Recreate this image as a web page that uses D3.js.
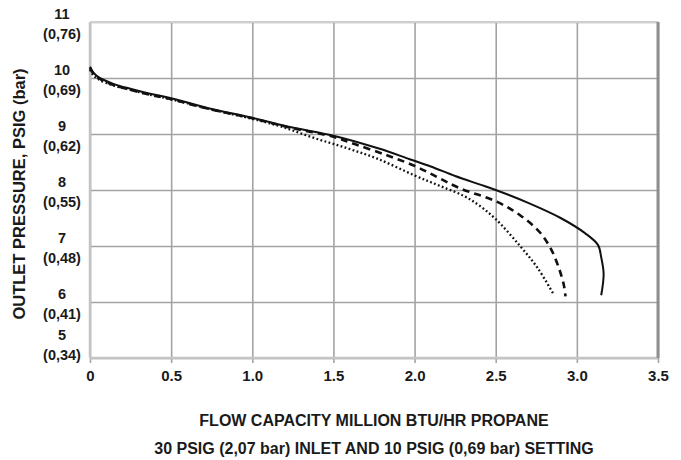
<!DOCTYPE html>
<html>
<head>
<meta charset="utf-8">
<script src="https://cdn.jsdelivr.net/npm/d3@7/dist/d3.min.js"></script>
<style>
  html, body { margin: 0; padding: 0; background: #fff; }
  svg text { font-family: "Liberation Sans", Arial, sans-serif; font-weight: bold; fill: #1a1a1a; }
</style>
</head>
<body>
<svg id="chart" width="681" height="460"></svg>
<script>
// flow capacity (million BTU/hr) and outlet pressure (psig)
var flowSolid = [0, 0.02, 0.05, 0.14, 0.26, 0.37, 0.5, 0.73, 1.0, 1.24, 1.5, 1.78, 1.97, 2.1, 2.25, 2.4, 2.5, 2.7, 2.9, 3.05, 3.13, 3.15, 3.165, 3.15];
var psigSolid = [10.2, 10.1, 10.02, 9.9, 9.8, 9.72, 9.64, 9.46, 9.29, 9.12, 8.97, 8.74, 8.55, 8.42, 8.25, 8.1, 8.0, 7.77, 7.5, 7.23, 7.02, 6.8, 6.5, 6.12];

var flowDashed = [0, 0.02, 0.05, 0.14, 0.26, 0.37, 0.5, 0.73, 1.0, 1.24, 1.5, 1.63, 1.83, 2.0, 2.14, 2.28, 2.5, 2.65, 2.77, 2.84, 2.89, 2.92, 2.93];
var psigDashed = [10.18, 10.08, 10.0, 9.88, 9.78, 9.7, 9.62, 9.45, 9.28, 9.11, 8.95, 8.82, 8.62, 8.43, 8.23, 8.03, 7.8, 7.55, 7.25, 6.95, 6.6, 6.3, 6.1];

var flowDotted = [0, 0.02, 0.05, 0.14, 0.26, 0.37, 0.5, 0.73, 1.0, 1.18, 1.38, 1.58, 1.77, 2.0, 2.15, 2.3, 2.4, 2.5, 2.65, 2.76, 2.86];
var psigDotted = [10.15, 10.05, 9.98, 9.87, 9.78, 9.7, 9.62, 9.45, 9.27, 9.13, 8.93, 8.75, 8.56, 8.26, 8.08, 7.9, 7.72, 7.48, 7.0, 6.6, 6.12];

var xTicks = [0, 0.5, 1.0, 1.5, 2.0, 2.5, 3.0, 3.5];
var xTickLabels = ['0', '0.5', '1.0', '1.5', '2.0', '2.5', '3.0', '3.5'];
var yTicks = [5, 6, 7, 8, 9, 10, 11];
var yBarLabels = ['(0,34)', '(0,41)', '(0,48)', '(0,55)', '(0,62)', '(0,69)', '(0,76)'];

var xTitle = ['FLOW CAPACITY MILLION BTU/HR PROPANE', '30 PSIG (2,07 bar) INLET AND 10 PSIG (0,69 bar) SETTING'];
var yTitle = 'OUTLET PRESSURE, PSIG (bar)';

var plotL = 90, plotR = 658, plotT = 22, plotB = 358;
var svg = d3.select('#chart');

var x = d3.scaleLinear().domain([0, 3.5]).range([plotL, plotR]);
var y = d3.scaleLinear().domain([5, 11]).range([plotB, plotT]);

// vertical grid + small ticks below the frame
var gx = svg.append('g')
  .attr('transform', 'translate(0,' + plotB + ')')
  .call(d3.axisBottom(x).tickValues(xTicks).tickSizeOuter(0)
    .tickFormat(function (d, i) { return xTickLabels[i]; }));
gx.select('.domain').remove();
gx.selectAll('.tick line').attr('stroke', '#a3a3a3').attr('stroke-width', 1.6)
  .attr('y1', 5).attr('y2', -(plotB - plotT));
gx.selectAll('.tick text').attr('y', 23).attr('dy', 0).attr('font-size', 15);

// horizontal grid
var gy = svg.append('g')
  .attr('transform', 'translate(' + plotL + ',0)')
  .call(d3.axisLeft(y).tickValues(yTicks).tickSizeOuter(0).tickFormat(''));
gy.select('.domain').remove();
gy.selectAll('.tick line').attr('stroke', '#a3a3a3').attr('stroke-width', 1.6)
  .attr('x1', 0).attr('x2', plotR - plotL);

// two-line y tick labels: psig over (bar)
gy.selectAll('.tick').each(function (d, i) {
  var shift = d === yTicks[0] ? -15 : 0;
  var t = d3.select(this).append('text')
    .attr('text-anchor', 'middle')
    .attr('font-size', 14.5);
  t.append('tspan').attr('x', 62 - plotL).attr('y', -4 + shift).text(d);
  t.append('tspan').attr('x', 62 - plotL).attr('y', 16 + shift).text(yBarLabels[i]);
});

// frame
svg.append('line').attr('x1', plotL).attr('x2', plotL).attr('y1', plotT).attr('y2', plotB)
  .attr('stroke', '#c4c4c4').attr('stroke-width', 2.5);
svg.append('line').attr('x1', plotL).attr('x2', plotR).attr('y1', plotB).attr('y2', plotB)
  .attr('stroke', '#c4c4c4').attr('stroke-width', 2.5);
svg.append('line').attr('x1', plotL).attr('x2', plotR).attr('y1', plotT).attr('y2', plotT)
  .attr('stroke', '#cfcfcf').attr('stroke-width', 2);
svg.append('line').attr('x1', plotR).attr('x2', plotR).attr('y1', plotT).attr('y2', plotB)
  .attr('stroke', '#8f8f8f').attr('stroke-width', 3);

function zip(xs, ys) {
  return xs.map(function (v, i) { return [v, ys[i]]; });
}

var line = d3.line()
  .x(function (d) { return x(d[0]); })
  .y(function (d) { return y(d[1]); })
  .curve(d3.curveCatmullRom.alpha(0.5));

var series = [
  { pts: zip(flowDotted, psigDotted), dash: '1.8,2.4', width: 2.3 },
  { pts: zip(flowDashed, psigDashed), dash: '7,5', width: 2.6 },
  { pts: zip(flowSolid, psigSolid), dash: null, width: 2 }
];

svg.append('g').selectAll('path')
  .data(series)
  .join('path')
  .attr('d', function (s) { return line(s.pts); })
  .attr('fill', 'none')
  .attr('stroke', '#111')
  .attr('stroke-width', function (s) { return s.width; })
  .attr('stroke-dasharray', function (s) { return s.dash; });

// axis titles
var cx = (plotL + plotR) / 2;
svg.append('text').attr('x', cx).attr('y', 426).attr('text-anchor', 'middle').attr('font-size', 16).text(xTitle[0]);
svg.append('text').attr('x', cx).attr('y', 454).attr('text-anchor', 'middle').attr('font-size', 16).text(xTitle[1]);

svg.append('text')
  .attr('transform', 'translate(25,194) rotate(-90)')
  .attr('text-anchor', 'middle')
  .attr('font-size', 16.5)
  .text(yTitle);
</script>
</body>
</html>
